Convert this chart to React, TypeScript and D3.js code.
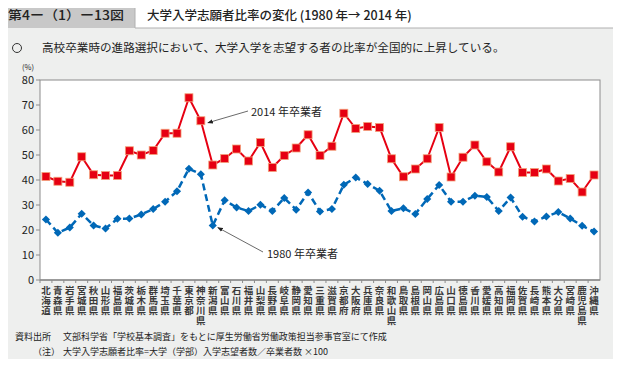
import React from 'react';
import * as d3 from 'd3';

const prefectures = [
  '北海道', '青森県', '岩手県', '宮城県', '秋田県', '山形県', '福島県', '茨城県', '栃木県', '群馬県',
  '埼玉県', '千葉県', '東京都', '神奈川県', '新潟県', '富山県', '石川県', '福井県', '山梨県', '長野県',
  '岐阜県', '静岡県', '愛知県', '三重県', '滋賀県', '京都府', '大阪府', '兵庫県', '奈良県', '和歌山県',
  '鳥取県', '島根県', '岡山県', '広島県', '山口県', '徳島県', '香川県', '愛媛県', '高知県', '福岡県',
  '佐賀県', '長崎県', '熊本県', '大分県', '宮崎県', '鹿児島県', '沖縄県',
];

const rate2014 = [
  41.4, 39.5, 39.1, 49.3, 42.1, 41.8, 41.8, 51.7, 50.0, 51.8,
  58.7, 58.7, 72.9, 63.7, 46.0, 48.6, 52.4, 47.6, 55.0, 45.0,
  49.8, 52.8, 58.1, 49.8, 53.5, 66.7, 60.6, 61.4, 61.0, 48.5,
  41.3, 44.4, 48.5, 61.0, 41.2, 49.1, 54.0, 47.3, 43.2, 53.3,
  43.0, 43.0, 44.4, 39.6, 40.6, 35.2, 42.0,
];

const rate1980 = [
  24.2, 18.9, 21.0, 26.5, 21.8, 20.6, 24.5, 24.6, 26.2, 28.4,
  31.3, 35.5, 44.5, 42.3, 21.8, 31.9, 29.0, 27.6, 30.1, 27.6,
  32.8, 28.1, 35.0, 27.4, 28.4, 38.1, 41.0, 38.4, 35.7, 27.6,
  28.7, 26.4, 32.4, 38.0, 31.3, 31.3, 33.7, 33.2, 27.6, 33.0,
  25.3, 23.4, 25.4, 27.2, 24.6, 21.7, 19.4,
];

const yTicks = [0, 10, 20, 30, 40, 50, 60, 70, 80];

const W = 621;
const H = 367;
const FONT = "'Noto Sans CJK JP', 'Noto Sans', sans-serif";

const left = 40, right = 600, top = 80, bottom = 280;

const Chart = () => {
  const x = d3.scaleBand<string>().domain(prefectures).range([left, right]);
  const cx = (i: number) => (x(prefectures[i]) as number) + x.bandwidth() / 2;
  const y = d3.scaleLinear().domain([0, 80]).range([bottom, top]);
  const line = d3.line<number>().x((_, i) => cx(i)).y(d => y(d));
  const diamond = d3.symbol().type(d3.symbolDiamond2).size(42)() as string;

  const i14 = prefectures.indexOf('神奈川県');
  const i80 = prefectures.indexOf('新潟県');

  return (
    <svg width={W} height={H} style={{ display: 'block' }}>
      <defs>
        <marker id="arr" viewBox="0 0 10 10" refX="9" refY="5" markerWidth="7" markerHeight="7" orient="auto">
          <path d="M0,1 L10,5 L0,9 Z" fill="#222" />
        </marker>
      </defs>

      {/* frame */}
      <path d={`M0,0 H${W} V${H - 14} Q${W},${H} ${W - 14},${H} H14 Q0,${H} 0,${H - 14} Z`} fill="#eeefee" />
      <rect x={0} y={0} width={W} height={28} fill="#c8c8c8" />
      <path d="M135,2 H607 Q618,2 618,13 V28 H135 Z" fill="#ffffff" stroke="#b0b0b0" strokeWidth={1} />
      <text x={8} y={20} fontFamily={FONT} fontSize={12.5} fontWeight={500} fill="#222"
        textLength={116} lengthAdjust="spacingAndGlyphs">第4ー（1）ー13図</text>
      <text x={147} y={20} fontFamily={FONT} fontSize={12.5} fontWeight={500} fill="#222">
        大学入学志願者比率の変化 (1980 年→ 2014 年)
      </text>

      <circle cx={17} cy={48} r={4.5} fill="none" stroke="#333" strokeWidth={1} />
      <text x={42} y={52} fontFamily={FONT} fontSize={11.6} fill="#222">
        高校卒業時の進路選択において、大学入学を志望する者の比率が全国的に上昇している。
      </text>

      {/* plot area */}
      <rect x={left} y={top} width={right - left} height={bottom - top} fill="#ffffff" stroke="#8c8c8c" strokeWidth={1} />

      {/* y axis */}
      <g fontFamily={FONT} fontSize={11} fill="#222" textAnchor="end">
        {yTicks.map(t => (
          <g key={t}>
            <line x1={left - 4} x2={left} y1={y(t)} y2={y(t)} stroke="#8c8c8c" />
            <text x={left - 6} y={y(t) + 4}>{t}</text>
          </g>
        ))}
      </g>
      <text x={34} y={70} textAnchor="end" fontFamily={FONT} fontSize={7.5} fill="#222">(%)</text>

      {/* x axis */}
      <line x1={left} x2={right} y1={bottom} y2={bottom} stroke="#8c8c8c" strokeWidth={1.5} />
      {prefectures.map(p => (
        <line key={p} x1={x(p) as number} x2={x(p) as number} y1={bottom} y2={bottom + 3} stroke="#8c8c8c" />
      ))}
      <g fontFamily={FONT} fontSize={9.5} fontWeight={700} fill="#3a3a3a" textAnchor="middle">
        {prefectures.map((p, i) =>
          Array.from(p).map((ch, k) => (
            <text key={p + k} x={cx(i)} y={294 + k * 10}>{ch}</text>
          ))
        )}
      </g>

      {/* 1980 */}
      <path d={line(rate1980) as string} fill="none" stroke="#0068b7" strokeWidth={2.5} strokeDasharray="7,4" />
      {rate1980.map((d, i) => (
        <path key={i} d={diamond} transform={`translate(${cx(i)},${y(d)})`} fill="#0068b7" />
      ))}

      {/* 2014 */}
      <path d={line(rate2014) as string} fill="none" stroke="#e60012" strokeWidth={2} />
      {rate2014.map((d, i) => (
        <rect key={i} x={cx(i) - 4} y={y(d) - 4} width={8} height={8}
          fill="#e60012" stroke="#f3a07a" strokeWidth={0.8} />
      ))}

      {/* annotations */}
      <line x1={248} y1={111} x2={cx(i14) + 7} y2={y(rate2014[i14]) + 2}
        stroke="#444" strokeWidth={0.8} markerEnd="url(#arr)" />
      <text x={251} y={116} fontFamily={FONT} fontSize={11} fill="#222">2014 年卒業者</text>
      <line x1={263} y1={252} x2={cx(i80) + 5} y2={y(rate1980[i80]) + 2}
        stroke="#444" strokeWidth={0.8} markerEnd="url(#arr)" />
      <text x={267} y={258} fontFamily={FONT} fontSize={11} fill="#222">1980 年卒業者</text>

      {/* footer */}
      <g fontFamily={FONT} fontSize={9} fill="#222">
        <text x={15} y={340}>資料出所</text>
        <text x={63} y={340}>文部科学省「学校基本調査」をもとに厚生労働省労働政策担当参事官室にて作成</text>
        <text x={33} y={355}>（注）</text>
        <text x={63} y={355}>大学入学志願者比率=大学（学部）入学志望者数／卒業者数 ×100</text>
      </g>
    </svg>
  );
};

export default function App() {
  return (
    <div style={{ margin: -8 }}>
      <Chart />
    </div>
  );
}
